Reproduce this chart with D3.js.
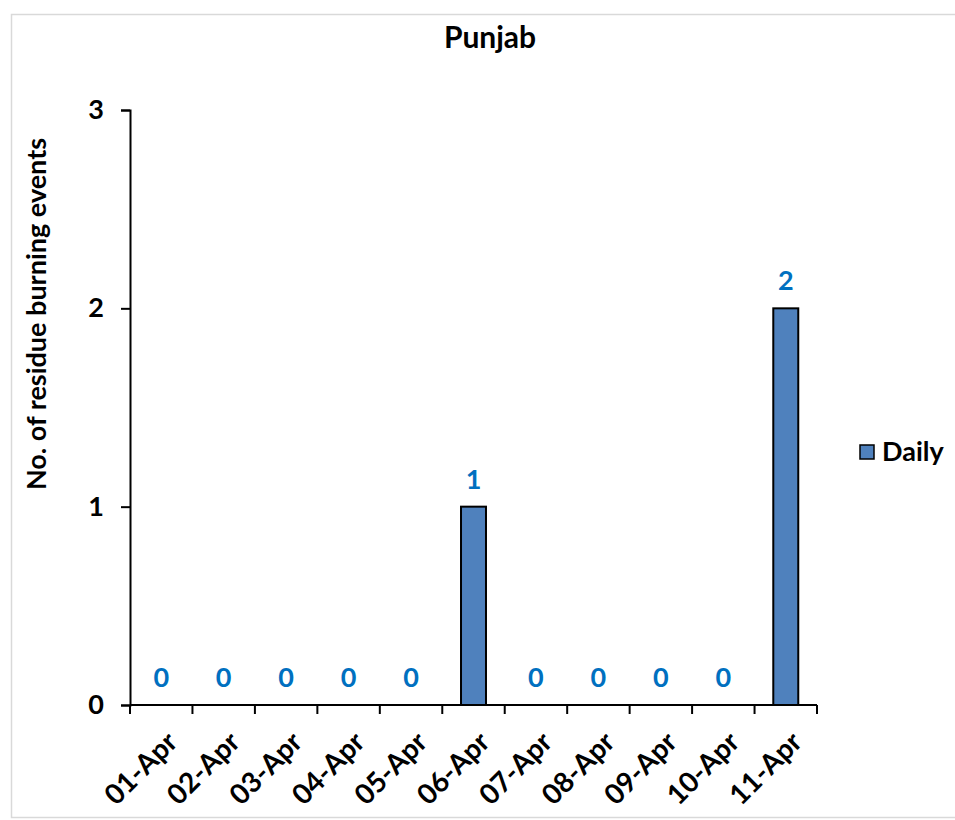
<!DOCTYPE html>
<meta charset="utf-8">
<style>
body { margin: 0; background: #fff; }
* { font-family: Lato, "Open Sans", sans-serif; }
.axis text { font-size: 27px; font-weight: bold; fill: #000; }
.axis path, .axis line { stroke: #000; stroke-width: 2px; }
</style>
<body>
<script src="https://d3js.org/d3.v7.min.js"></script>
<script>
var categories = ["01-Apr","02-Apr","03-Apr","04-Apr","05-Apr","06-Apr","07-Apr","08-Apr","09-Apr","10-Apr","11-Apr"];
var daily = [0,0,0,0,0,1,0,0,0,0,2];
var yTicks = [0,1,2,3];

var width = 955, height = 820;
var margin = {top: 110, left: 130, right: 138, bottom: 115};

var svg = d3.select("body").append("svg")
    .attr("width", width)
    .attr("height", height);

// outer chart border
svg.append("rect")
    .attr("x", 11.5).attr("y", 14.5)
    .attr("width", 960).attr("height", 803)
    .attr("fill", "none")
    .attr("stroke", "#d9d9d9")
    .attr("stroke-width", 1.5);

var x = d3.scaleBand()
    .domain(categories)
    .range([margin.left, width - margin.right])
    .paddingInner(0.6)
    .paddingOuter(0.3);

var y = d3.scaleLinear()
    .domain([0, 3])
    .range([height - margin.bottom, margin.top]);

svg.append("text")
    .attr("x", 490)
    .attr("y", 48)
    .attr("text-anchor", "middle")
    .style("font-size", "30px")
    .style("font-weight", "bold")
    .text("Punjab");

// bars
svg.selectAll(".bar")
    .data(daily)
  .enter().append("rect")
    .attr("class", "bar")
    .attr("x", function(d, i) { return x(categories[i]); })
    .attr("y", function(d) { return y(d); })
    .attr("width", x.bandwidth())
    .attr("height", function(d) { return y(0) - y(d); })
    .attr("fill", "#4f81bd")
    .attr("stroke", "#000")
    .attr("stroke-width", d => d > 0 ? 2 : 0);

// value labels
svg.selectAll(".lbl")
    .data(daily)
  .enter().append("text")
    .attr("class", "lbl")
    .attr("x", function(d, i) { return x(categories[i]) + x.bandwidth() / 2; })
    .attr("y", function(d) { return y(d) - 18; })
    .attr("text-anchor", "middle")
    .style("font-size", "27px")
    .style("font-weight", "bold")
    .style("fill", "#0070c0")
    .text(function(d) { return d; });

// y axis
svg.append("g")
    .attr("class", "axis")
    .attr("transform", "translate(" + margin.left + ",0)")
    .call(d3.axisLeft(y).tickValues(yTicks).tickFormat(d3.format("d")).tickSize(9).tickSizeOuter(9).tickPadding(17));

// x axis: ticks at band edges
var xAxis = svg.append("g")
    .attr("class", "axis")
    .attr("transform", "translate(0," + y(0) + ")");
xAxis.append("line")
    .attr("x1", margin.left).attr("x2", width - margin.right)
    .attr("y1", 0).attr("y2", 0);
var edges = d3.range(categories.length + 1).map(function(i) { return margin.left + i * (width - margin.left - margin.right) / categories.length; });
xAxis.selectAll(".tk")
    .data(edges)
  .enter().append("line")
    .attr("x1", d => d).attr("x2", d => d)
    .attr("y1", 0).attr("y2", 9);
xAxis.selectAll(".xl")
    .data(categories)
  .enter().append("text")
    .attr("text-anchor", "end")
    .style("font-size", "28px")
    .attr("transform", function(d) {
      return "translate(" + (x(d) + x.bandwidth() / 2 + 4) + ",25) rotate(-45)";
    })
    .attr("dy", "0.7em")
    .text(d => d);

// y axis title
svg.append("text")
    .attr("transform", "translate(46,314) rotate(-90)")
    .attr("text-anchor", "middle")
    .style("font-size", "27px")
    .style("font-weight", "bold")
    .text("No. of residue burning events");

// legend
var leg = svg.append("g").attr("transform", "translate(860,445)");
leg.append("rect")
    .attr("width", 14).attr("height", 14)
    .attr("fill", "#4f81bd").attr("stroke", "#000").attr("stroke-width", 1.5);
leg.append("text")
    .attr("x", 22).attr("y", 16)
    .style("font-size", "27px")
    .style("font-weight", "bold")
    .text("Daily");
</script>
